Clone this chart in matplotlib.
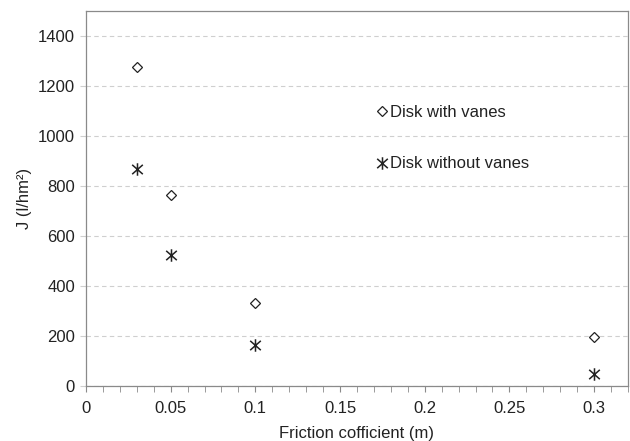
import numpy as np
import matplotlib.pyplot as plt
from matplotlib.path import Path
from matplotlib.ticker import MultipleLocator

plt.rcParams['font.family'] = ['Liberation Sans', 'DejaVu Sans']

friction = [0.03, 0.05, 0.1, 0.3]
with_vanes = [1276, 764, 332, 196]
without_vanes = [868, 524, 164, 48]

# asterisk: vertical bar plus an X
star = Path([(0, -1), (0, 1), (-0.85, -0.75), (0.85, 0.75), (-0.85, 0.75), (0.85, -0.75)],
            [Path.MOVETO, Path.LINETO, Path.MOVETO, Path.LINETO, Path.MOVETO, Path.LINETO])

fig = plt.figure(figsize=(6.3, 4.41), dpi=100)
ax = fig.add_axes([0.1365, 0.1247, 0.8603, 0.8503])

ax.plot(friction, with_vanes, linestyle='none', marker='D', markersize=5.5,
        markerfacecolor='white', markeredgecolor='#222222', markeredgewidth=0.9,
        label='Disk with vanes')
ax.plot(friction, without_vanes, linestyle='none', marker=star, markersize=9,
        markeredgecolor='#222222', markeredgewidth=1.1, label='Disk without vanes')

ax.set_xlim(0, 0.32)
ax.set_ylim(0, 1500)
ax.set_xticks([0, 0.05, 0.1, 0.15, 0.2, 0.25, 0.3])
ax.set_xticklabels(['0', '0.05', '0.1', '0.15', '0.2', '0.25', '0.3'])
ax.xaxis.set_minor_locator(MultipleLocator(0.01))
ax.set_yticks(range(0, 1401, 200))

ax.yaxis.grid(True, linestyle=(0, (4, 3)), color='#cfcfcf', linewidth=0.8)
ax.set_axisbelow(True)
for s in ax.spines.values():
    s.set_color('#8a8a8a')
    s.set_linewidth(0.9)

fs = 12
ax.tick_params(axis='x', which='both', direction='out', length=4, color='#8a8a8a',
               labelsize=fs, labelcolor='#222222', pad=7)
ax.tick_params(axis='y', direction='out', length=4, color='#cfcfcf',
               labelsize=fs, labelcolor='#222222', pad=4)

ax.set_xlabel('Friction cofficient (m)', fontsize=fs, color='#222222', labelpad=7)
ax.set_ylabel('J (l/hm²)', fontsize=fs, color='#222222', labelpad=4)

ax.legend(loc='upper left', bbox_to_anchor=(0.510, 0.79), frameon=False,
          handlelength=0.5, handletextpad=0.25, labelspacing=2.2, fontsize=fs,
          labelcolor='#222222')

fig.savefig('out.png', dpi=100)
